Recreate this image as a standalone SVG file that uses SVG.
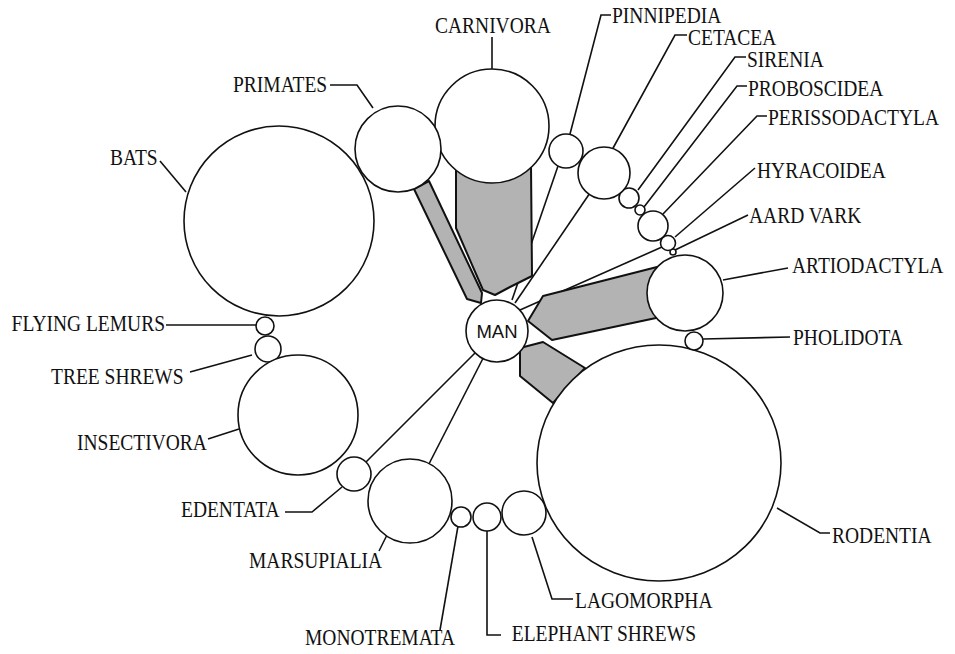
<svg xmlns="http://www.w3.org/2000/svg" width="955" height="654" viewBox="0 0 955 654">
<style>
.c{fill:#fff;stroke:#111;stroke-width:1.6}
.b{fill:#b3b3b3;stroke:#111;stroke-width:2;stroke-linejoin:round}
.l{fill:none;stroke:#111;stroke-width:1.6}
text{font-family:"Liberation Serif","Times New Roman",serif;font-size:19.5px;fill:#111}
.man{font-family:"Liberation Sans",Arial,sans-serif;font-size:18.5px}
</style>
<rect width="955" height="654" fill="#fff"/>
<g id="connectors">
<line class="l" x1="512" y1="300" x2="558" y2="166"/>
<line class="l" x1="515" y1="303" x2="592" y2="190"/>
<line class="l" x1="520" y1="310" x2="662" y2="247"/>
<line class="l" x1="497" y1="331" x2="354" y2="474"/>
<line class="l" x1="497" y1="331" x2="410" y2="501"/>
<polygon class="b" points="414,189 429,181 482,293 481,303 467,299"/>
<polygon class="b" points="456,165 456,228 483,290 495,295 510,287 532,276 531,165"/>
<polygon class="b" points="543,296 657,267 656,318 552,340 528,321"/>
<polygon class="b" points="520,348 543,342 585,368 553,403 520,376"/>
<polyline class="l" points="492,37 492,69"/>
<polyline class="l" points="611,15 601,15 570,134"/>
<polyline class="l" points="687,35 675,35 612,150"/>
<polyline class="l" points="746,57 735,57 638,190"/>
<polyline class="l" points="747,86 737,86 644,207"/>
<polyline class="l" points="767,116 757,116 663,214"/>
<polyline class="l" points="755,168 675,237"/>
<polyline class="l" points="748,215 675,250"/>
<polyline class="l" points="723,280 788,268"/>
<polyline class="l" points="703,339 790,337"/>
<polyline class="l" points="777,508 820,533 830,533"/>
<polyline class="l" points="532,537 552,599 573,599"/>
<polyline class="l" points="487,531 487,635 501,635"/>
<polyline class="l" points="458,526 440,630"/>
<polyline class="l" points="387,535 379,551"/>
<polyline class="l" points="285,512 312,512 342,487"/>
<polyline class="l" points="208,439 239,429"/>
<polyline class="l" points="190,372 252,355"/>
<polyline class="l" points="166,325 256,325"/>
<polyline class="l" points="160,161 186,192"/>
<polyline class="l" points="330,85 357,85 373,108"/>
</g>
<g id="carnivora"><circle class="c" cx="492" cy="126" r="57"/><text transform="translate(435,33) scale(1,1.14)">CARNIVORA</text></g>
<g id="primates"><circle class="c" cx="398" cy="149" r="43"/><text transform="translate(233,92) scale(1,1.14)">PRIMATES</text></g>
<g id="bats"><circle class="c" cx="279" cy="221" r="95"/><text transform="translate(110,165) scale(1,1.14)">BATS</text></g>
<g id="flying-lemurs"><circle class="c" cx="265" cy="326" r="9"/><text transform="translate(165,331) scale(1,1.14)" text-anchor="end">FLYING LEMURS</text></g>
<g id="tree-shrews"><circle class="c" cx="268" cy="349" r="13"/><text transform="translate(51,384) scale(1,1.14)">TREE SHREWS</text></g>
<g id="insectivora"><circle class="c" cx="298" cy="415" r="60"/><text transform="translate(77,450) scale(1,1.14)">INSECTIVORA</text></g>
<g id="edentata"><circle class="c" cx="354" cy="474" r="17"/><text transform="translate(181,517) scale(1,1.14)">EDENTATA</text></g>
<g id="marsupialia"><circle class="c" cx="410" cy="501" r="42"/><text transform="translate(249,568) scale(1,1.14)">MARSUPIALIA</text></g>
<g id="monotremata"><circle class="c" cx="461" cy="517" r="10"/><text transform="translate(305,645) scale(1,1.14)">MONOTREMATA</text></g>
<g id="elephant-shrews"><circle class="c" cx="487" cy="517" r="14"/><text transform="translate(696,641) scale(1,1.14)" text-anchor="end">ELEPHANT SHREWS</text></g>
<g id="lagomorpha"><circle class="c" cx="524" cy="513" r="22"/><text transform="translate(575,608) scale(1,1.14)">LAGOMORPHA</text></g>
<g id="rodentia"><ellipse class="c" cx="659" cy="463" rx="122" ry="118"/><text transform="translate(832,543) scale(1,1.14)">RODENTIA</text></g>
<g id="pholidota"><circle class="c" cx="694" cy="341" r="9"/><text transform="translate(793,345) scale(1,1.14)">PHOLIDOTA</text></g>
<g id="artiodactyla"><circle class="c" cx="685" cy="293" r="38"/><text transform="translate(792,273) scale(1,1.14)">ARTIODACTYLA</text></g>
<g id="aard-vark"><circle class="c" cx="673" cy="252" r="3"/><text transform="translate(749,223) scale(1,1.14)">AARD VARK</text></g>
<g id="hyracoidea"><circle class="c" cx="668" cy="243" r="7.5"/><text transform="translate(757,178) scale(1,1.14)">HYRACOIDEA</text></g>
<g id="perissodactyla"><circle class="c" cx="653" cy="226" r="15"/><text transform="translate(768,125) scale(1,1.14)">PERISSODACTYLA</text></g>
<g id="proboscidea"><circle class="c" cx="640" cy="210" r="5"/><text transform="translate(748,96) scale(1,1.14)">PROBOSCIDEA</text></g>
<g id="sirenia"><circle class="c" cx="629" cy="198" r="10"/><text transform="translate(747,67) scale(1,1.14)">SIRENIA</text></g>
<g id="cetacea"><circle class="c" cx="604" cy="173" r="26"/><text transform="translate(688,45) scale(1,1.14)">CETACEA</text></g>
<g id="pinnipedia"><circle class="c" cx="566" cy="151" r="17"/><text transform="translate(612,23) scale(1,1.14)">PINNIPEDIA</text></g>
<g id="man"><circle class="c" cx="497" cy="331" r="31"/><text class="man" x="497" y="338" text-anchor="middle">MAN</text></g>
</svg>
